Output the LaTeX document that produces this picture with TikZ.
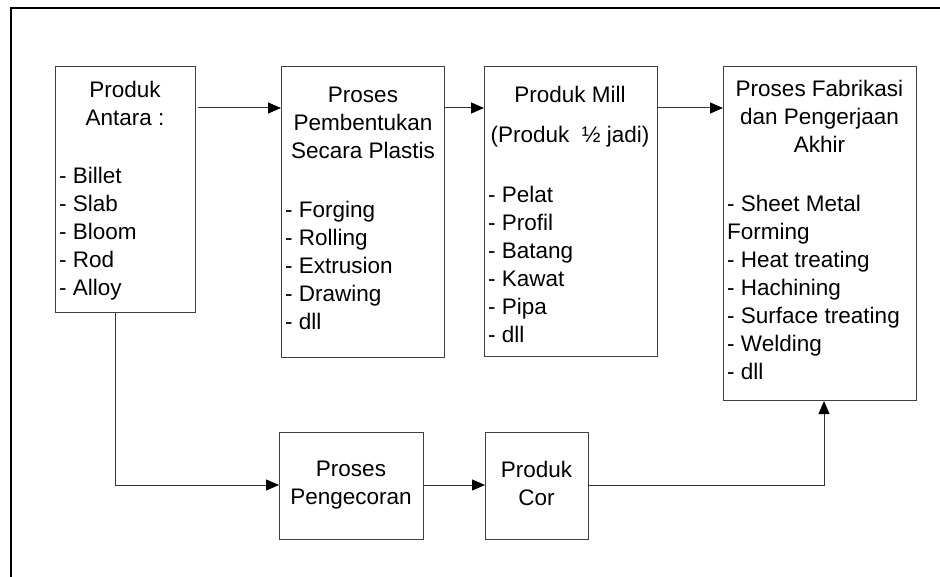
\documentclass[tikz,border=0pt]{standalone}
\usepackage{fontspec}
\setmainfont{Liberation Sans}
\usetikzlibrary{arrows.meta}
\definecolor{boxgray}{gray}{0.25}
\definecolor{linegray}{gray}{0.2}
\newcommand\diafont{\fontsize{22.5pt}{28pt}\selectfont}
\begin{document}
\begin{tikzpicture}[x=1pt,y=-1pt,
  box/.style={draw=boxgray, line width=1pt, inner sep=0pt, anchor=north west},
  head/.style={anchor=north, align=center, inner sep=0pt, font=\diafont},
  list/.style={anchor=north west, align=left, inner sep=0pt, font=\diafont},
  arr/.style={draw=linegray, line width=1pt, -{Triangle[length=13pt,width=11pt,color=black]}},
  frame/.style={draw=black, line width=2pt}]
\useasboundingbox (0,0) rectangle (940,577);
% outer frame
\coordinate (ftr) at (940,8);
\coordinate (ftl) at (11,8);
\coordinate (fbl) at (11,577);
\draw[frame] (ftr) -- (ftl) -- (fbl);
% boxes
\node[box, minimum width=140pt, minimum height=246pt] (b1) at (55,66) {};
\node[box, minimum width=163pt, minimum height=291pt] (b2) at (281,66) {};
\node[box, minimum width=173pt, minimum height=290pt] (b3) at (484,66) {};
\node[box, minimum width=193pt, minimum height=334pt] (b4) at (723,66) {};
\node[box, minimum width=144pt, minimum height=107pt] (b5) at (279,432) {};
\node[box, minimum width=103pt, minimum height=107pt] (b6) at (485,432) {};
% texts
\node[head] (t1) at (125,80.6) {Produk\\Antara :};
\node[list] (l1) at (59,166.6) {- Billet\\- Slab\\- Bloom\\- Rod\\- Alloy};
\node[head] (t2) at (363,86.6) {Proses\\Pembentukan\\Secara Plastis};
\node[list] (l2) at (285,200.6) {- Forging\\- Rolling\\- Extrusion\\- Drawing\\- dll};
\node[head] (t3) at (570,85.6) {Produk Mill};
\node[head] (t3b) at (570,125.6) {(Produk\ \ ½ jadi)};
\node[list] (l3) at (488,185.6) {- Pelat\\- Profil\\- Batang\\- Kawat\\- Pipa\\- dll};
\node[head] (t4) at (819.5,79.6) {Proses Fabrikasi\\dan Pengerjaan\\Akhir};
\node[list] (l4) at (727,194.6) {- Sheet Metal\\Forming\\- Heat treating\\- Hachining\\- Surface treating\\- Welding\\- dll};
\node[head] (t5) at (351,460.6) {Proses\\Pengecoran};
\node[head] (t6) at (536.5,460.6) {Produk\\Cor};
% connectors
\coordinate (r1) at (0,108);
\coordinate (k1) at (115,485);
\coordinate (k2) at (824,485);
\draw[arr] ([xshift=2pt]b1.east |- r1) -- (b2.west |- r1);
\draw[arr] (b2.east |- r1) -- (b3.west |- r1);
\draw[arr] (b3.east |- r1) -- (b4.west |- r1);
\draw[arr] (b1.south -| k1) -- (k1) -- (b5.west |- k1);
\draw[arr] (b5.east |- k1) -- (b6.west |- k1);
\draw[arr] (b6.east |- k1) -- (k2) -- (b4.south -| k2);
\end{tikzpicture}
\end{document}
